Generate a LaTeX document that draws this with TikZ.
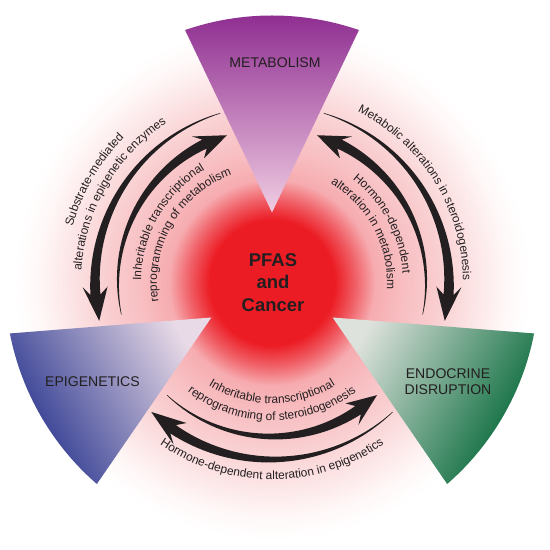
\documentclass[tikz,border=0pt]{standalone}
\usepackage{fontspec}
\setmainfont{Liberation Sans}
\usepackage{xcolor}
\usepackage{tikz}
\usetikzlibrary{decorations.text}

\definecolor{txt}{RGB}{35,31,32}
\definecolor{corered}{RGB}{236,28,36}
\definecolor{glowa}{RGB}{240,95,102}
\definecolor{glowb}{RGB}{246,172,176}
\definecolor{glowc}{RGB}{248,192,195}
\definecolor{glowd}{RGB}{249,204,206}
\definecolor{glowe}{RGB}{252,228,229}
\definecolor{glowf}{RGB}{255,248,248}
\definecolor{metapurple}{RGB}{141,43,144}
\definecolor{metalight}{RGB}{240,205,226}
\definecolor{epiblue}{RGB}{40,52,142}
\definecolor{epilight}{RGB}{232,218,230}
\definecolor{endogreen}{RGB}{0,102,54}
\definecolor{endolight}{RGB}{222,226,220}

\pgfdeclareradialshading{glow}{\pgfpoint{0bp}{0bp}}{%
  color(0bp)=(corered); color(5.6bp)=(corered); color(7.4bp)=(glowa);
  color(9.2bp)=(glowb); color(12bp)=(glowc); color(14.5bp)=(glowd);
  color(18bp)=(glowe); color(21bp)=(glowf); color(23bp)=(white); color(50bp)=(white)}

\newcommand{\arcfont}{\fontsize{6.8}{8}\selectfont\color{txt}}

% tapered curved arrow: radius, tail angle, head base angle, tip angle
\newcommand{\taperarrow}[4]{%
  \fill[txt] plot[domain=0:1, samples=40, variable=\t] ({#2+((#3)-(#2))*\t}:{#1+0.005+0.095*\t})
    -- ({#3-0.3*((#4)-(#3))}:{#1+0.25}) -- ({#4}:{#1}) -- ({#3-0.3*((#4)-(#3))}:{#1-0.25})
    -- plot[domain=1:0, samples=40, variable=\t] ({#2+((#3)-(#2))*\t}:{#1-0.005-0.095*\t}) -- cycle;}

\begin{document}
\begin{tikzpicture}[
    wedgelabel/.style={font=\fontsize{8}{9}\selectfont, text=txt, align=center},
    core/.style={font=\bfseries\fontsize{10.5}{13}\selectfont, text=txt, align=center},
    arctext/.style={decorate, decoration={text along path, text align=center, text={|\arcfont|#1}}}
]

\fill[white] (-5.44,-5.35) rectangle (5.56,5.65);
\useasboundingbox (-5.44,-5.35) rectangle (5.56,5.65);

% background glow
\shade[shading=glow] (0,0) circle (5.6);

% wedges
\shade[top color=metapurple, bottom color=metalight] (90:1.4) -- (109:5.34) arc[start angle=109, end angle=71, radius=5.34] -- cycle;
\shade[top color=epiblue, bottom color=epilight, shading angle=120] (210:1.4) -- (229:5.34) arc[start angle=229, end angle=191, radius=5.34] -- cycle;
\shade[top color=endogreen, bottom color=endolight, shading angle=-120] (330:1.4) -- (349:5.34) arc[start angle=349, end angle=311, radius=5.34] -- cycle;

\node[wedgelabel] (meta) at (0.06,4.39) {METABOLISM};
\node[wedgelabel] (epi) at (-3.59,-1.99) {EPIGENETICS};
\node[wedgelabel] (endo) at (3.52,-1.99) {ENDOCRINE\\DISRUPTION};
\node[core] (pfas) at (0.02,0) {PFAS\\and\\Cancer};

% left pair
\taperarrow{3.54}{107}{184}{192.5}
\taperarrow{3.08}{192}{116}{107}
\path[arctext={Substrate-mediated}] (200:4.14) arc[start angle=200, end angle=100, radius=4.14];
\path[arctext={alterations in epigenetic enzymes}] (200:3.82) arc[start angle=200, end angle=100, radius=3.82];
\path[arctext={Inheritable transcriptional}] (205:2.62) arc[start angle=205, end angle=95, radius=2.62];
\path[arctext={reprogramming of metabolism}] (210:2.30) arc[start angle=210, end angle=90, radius=2.30];

% right pair
\taperarrow{3.54}{73}{-4}{-12.5}
\taperarrow{3.08}{-12}{64}{73}
\path[arctext={Metabolic alterations in steroidogenesis}] (82:3.82) arc[start angle=82, end angle=-18, radius=3.82];
\path[arctext={Hormone-dependent}] (83:2.62) arc[start angle=83, end angle=-27, radius=2.62];
\path[arctext={alteration in metabolism}] (88:2.30) arc[start angle=88, end angle=-32, radius=2.30];

% bottom pair
\taperarrow{3.08}{227}{304}{313}
\taperarrow{3.54}{313}{236}{227}
\path[arctext={Inheritable transcriptional}] (215:2.42) arc[start angle=215, end angle=325, radius=2.42];
\path[arctext={reprogramming of steroidogenesis}] (215:2.76) arc[start angle=215, end angle=325, radius=2.76];
\path[arctext={Hormone-dependent alteration in epigenetics}] (215:3.94) arc[start angle=215, end angle=325, radius=3.94];

\end{tikzpicture}
\end{document}
